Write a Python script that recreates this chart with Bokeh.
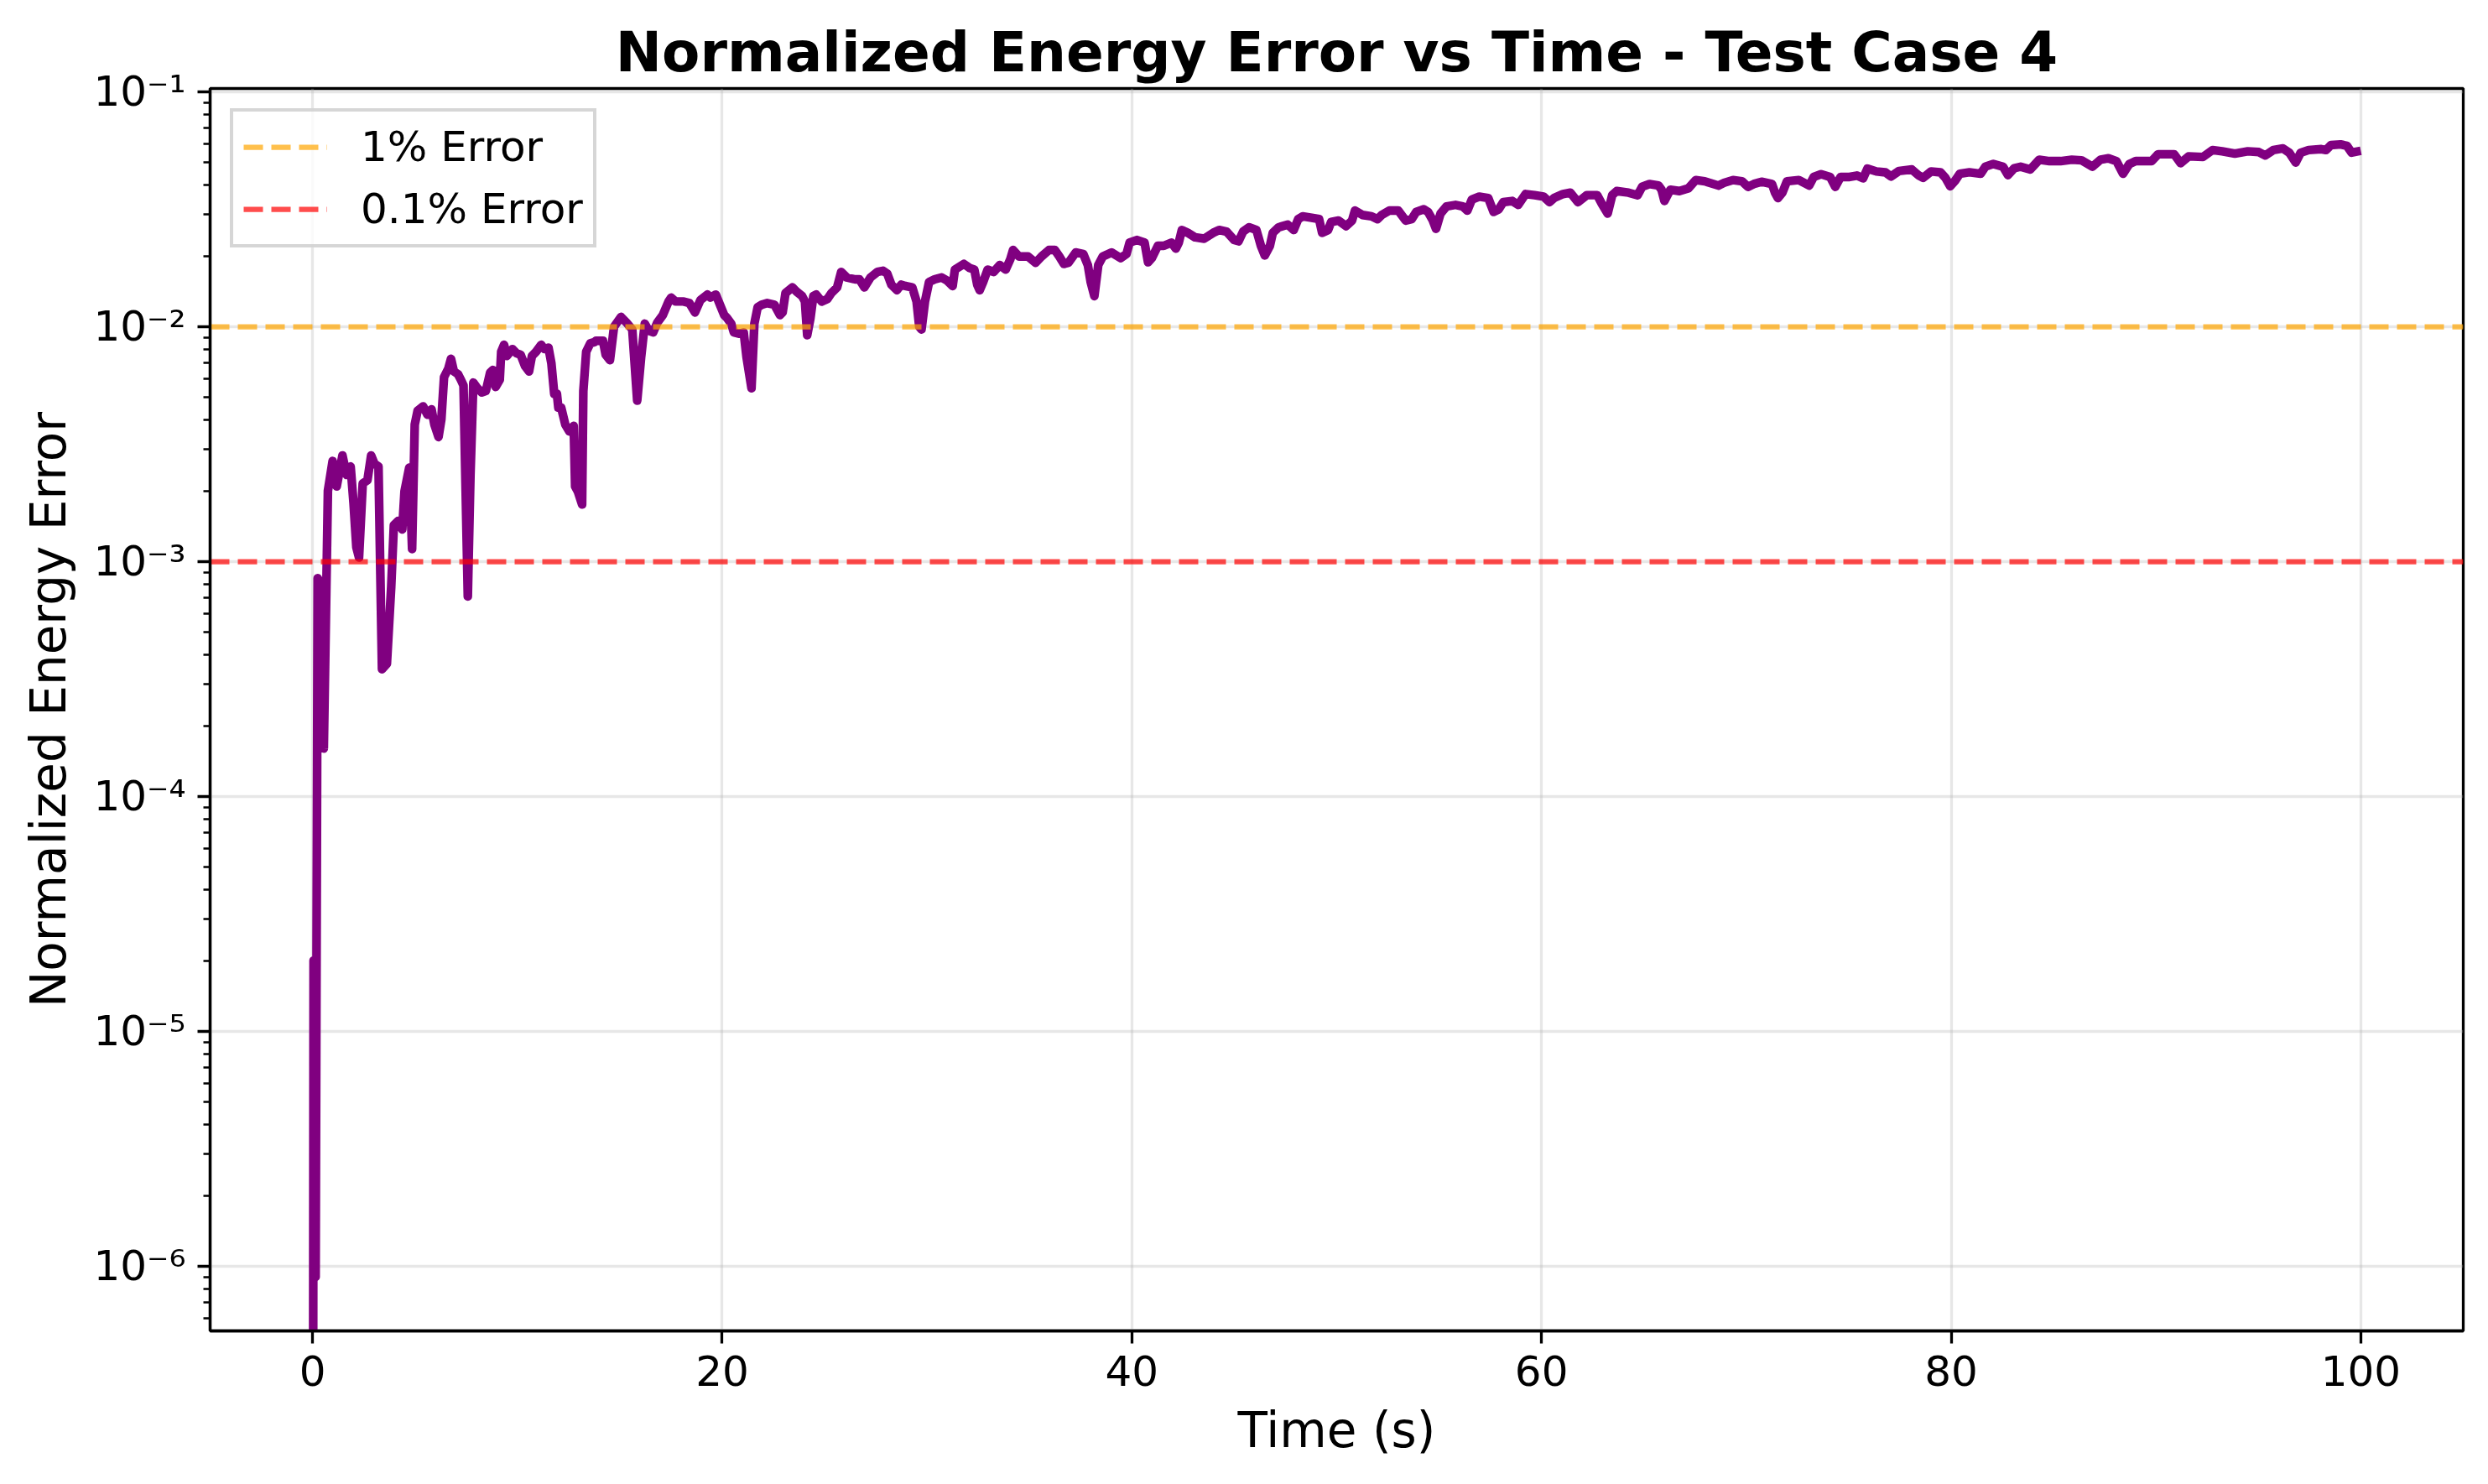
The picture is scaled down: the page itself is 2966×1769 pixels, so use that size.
from bokeh.plotting import figure
from bokeh.models import Range1d, FixedTicker, CustomJSTickFormatter, Legend, LegendItem
from bokeh.embed import file_html
from bokeh.resources import INLINE

TITLE = "Normalized Energy Error vs Time - Test Case 4"
X_LABEL = "Time (s)"
Y_LABEL = "Normalized Energy Error"

TIME = [
    0.00, 0.05, 0.15, 0.25, 0.40, 0.55, 0.75, 0.98, 1.18, 1.46, 1.66, 1.86, 2.00, 2.14, 2.27,
    2.45, 2.68, 2.86, 3.02, 3.22, 3.39, 3.63, 3.84, 3.97, 4.18, 4.38, 4.49, 4.72, 4.86, 4.99,
    5.13, 5.40, 5.61, 5.81, 5.95, 6.15, 6.29, 6.42, 6.63, 6.76, 6.90, 7.10, 7.24, 7.37, 7.58,
    7.71, 7.85, 8.05, 8.26, 8.46, 8.67, 8.80, 8.94, 9.14, 9.21, 9.35, 9.48, 9.76, 9.96, 10.16,
    10.37, 10.57, 10.71, 10.91, 11.16, 11.32, 11.52, 11.66, 11.80, 11.93, 12.00, 12.14, 12.34,
    12.54, 12.75, 12.82, 12.95, 13.16, 13.22, 13.36, 13.56, 13.77,
    13.84, 14.18, 14.31, 14.52, 14.72, 15.06, 15.33, 15.61, 15.85, 16.04, 16.22, 16.42, 16.63,
    16.83, 17.10, 17.38, 17.51, 17.72, 18.12, 18.40, 18.67, 18.94, 19.28, 19.42, 19.69, 19.89,
    20.10, 20.23, 20.44, 20.57, 20.85, 21.05, 21.19, 21.43, 21.57, 21.73, 21.93, 22.20, 22.55,
    22.82, 22.95, 23.09, 23.43, 23.63, 23.90, 24.04, 24.15, 24.31, 24.45, 24.59, 24.86, 25.13,
    25.33, 25.61, 25.81, 26.08, 26.49, 26.70, 26.94, 27.24, 27.58, 27.85, 28.06, 28.26, 28.53,
    28.74, 28.94, 29.28, 29.49, 29.62, 29.73, 29.90, 30.10, 30.37, 30.71, 30.98, 31.25, 31.36,
    31.80, 32.07,
    32.31, 32.45, 32.57, 32.74, 32.96, 33.25, 33.55, 33.84, 34.06, 34.20, 34.49, 34.93, 35.30,
    35.59, 35.95, 36.24, 36.46, 36.68, 36.90, 37.26, 37.63, 37.85, 37.99, 38.17, 38.36, 38.58,
    39.01, 39.45, 39.74, 39.89, 40.25, 40.62, 40.79, 40.98, 41.27, 41.56, 41.93, 42.15, 42.29,
    42.44, 42.73, 43.09, 43.53, 43.97, 44.26, 44.62, 44.99, 45.21, 45.43, 45.72, 46.08, 46.30,
    46.49, 46.74, 46.88, 47.17, 47.61, 47.90, 48.12, 48.34, 48.78, 49.14, 49.29, 49.58, 49.73,
    50.09, 50.46, 50.75, 50.89, 51.26, 51.70, 51.99, 52.20, 52.57, 53.01, 53.37, 53.66, 53.88,
    54.25, 54.46, 54.68,
    54.85, 55.07, 55.36, 55.80, 56.16, 56.38, 56.60, 56.96, 57.40, 57.66, 57.91, 58.13, 58.57,
    58.86, 59.22, 59.66, 60.10, 60.39, 60.61, 61.05, 61.41, 61.78, 62.21, 62.72, 62.94, 63.23,
    63.45, 63.67, 64.25, 64.69, 64.91, 65.27, 65.71, 65.86, 66.00, 66.29, 66.73, 67.17, 67.53,
    67.97, 68.63, 68.92, 69.35, 69.79, 70.08, 70.37, 70.74, 71.25, 71.40, 71.54, 71.76, 71.98,
    72.56, 73.07, 73.29, 73.65, 74.09, 74.34, 74.60, 75.04, 75.40, 75.70, 75.91, 76.35, 76.79,
    77.06, 77.45, 78.08, 78.39, 78.63, 79.02, 79.48, 79.72, 79.95, 80.19, 80.42, 80.89, 81.44,
    81.67, 82.06, 82.53, 82.77, 83.08, 83.39, 83.86, 84.30, 84.80, 85.34, 85.89, 86.36, 86.90,
    87.29, 87.68, 88.07, 88.39, 88.70, 89.01, 89.79, 90.10, 90.89, 91.20, 91.59, 92.29, 92.76,
    93.23, 93.85, 94.48, 95.02, 95.34, 95.73, 96.20, 96.51, 96.82, 97.06, 97.45, 98.07, 98.30,
    98.54, 99.01, 99.32, 99.55, 100.00,
]

ENERGY_ERROR = [
    1e-9, 2.0e-5, 9.0e-7, 8.5e-4, 8.0e-4, 1.6e-4, 2.0e-3, 2.68e-3, 2.09e-3, 2.83e-3, 2.34e-3,
    2.54e-3, 1.78e-3, 1.15e-3, 1.04e-3,
    2.15e-3, 2.22e-3, 2.83e-3, 2.61e-3, 2.54e-3, 3.48e-4, 3.67e-4, 7.8e-4, 1.43e-3, 1.49e-3,
    1.37e-3, 1.99e-3, 2.51e-3, 1.13e-3, 3.83e-3,
    4.39e-3, 4.58e-3, 4.22e-3, 4.45e-3, 3.83e-3, 3.39e-3, 4.04e-3, 6.10e-3, 6.63e-3, 7.30e-3,
    6.45e-3, 6.28e-3, 5.95e-3, 5.62e-3, 7.1e-4,
    2.34e-3, 5.78e-3, 5.47e-3, 5.25e-3, 5.32e-3, 6.37e-3, 6.54e-3, 5.54e-3, 5.94e-3, 7.82e-3,
    8.37e-3, 7.50e-3, 8.03e-3, 7.71e-3, 7.60e-3,
    6.81e-3, 6.45e-3, 7.50e-3, 7.82e-3, 8.37e-3, 8.03e-3, 8.14e-3, 6.99e-3, 5.18e-3, 5.18e-3,
    4.52e-3, 4.52e-3, 3.83e-3,
    3.58e-3, 3.78e-3, 2.09e-3, 1.99e-3, 1.75e-3, 5.32e-3, 7.82e-3, 8.49e-3, 8.60e-3,
    8.71e-3, 8.71e-3, 7.60e-3, 7.20e-3, 1.00e-2, 1.10e-2, 1.04e-2, 9.73e-3, 4.84e-3, 7.40e-3,
    1.03e-2, 9.60e-3, 9.46e-3,
    1.04e-2, 1.12e-2, 1.28e-2, 1.33e-2, 1.28e-2, 1.28e-2, 1.26e-2, 1.15e-2, 1.30e-2, 1.37e-2,
    1.33e-2, 1.37e-2, 1.24e-2,
    1.12e-2, 1.09e-2, 1.03e-2, 9.46e-3, 9.33e-3, 9.46e-3, 7.40e-3, 5.47e-3, 1.03e-2, 1.21e-2,
    1.24e-2, 1.26e-2, 1.24e-2,
    1.12e-2, 1.15e-2, 1.39e-2, 1.47e-2, 1.41e-2, 1.35e-2, 1.28e-2, 9.20e-3, 1.09e-2, 1.35e-2,
    1.37e-2, 1.28e-2, 1.31e-2,
    1.39e-2, 1.47e-2, 1.71e-2, 1.62e-2, 1.59e-2, 1.59e-2, 1.47e-2, 1.62e-2, 1.71e-2, 1.73e-2,
    1.68e-2, 1.51e-2, 1.43e-2,
    1.51e-2, 1.49e-2, 1.47e-2, 1.28e-2, 1.00e-2, 9.73e-3, 1.28e-2, 1.55e-2, 1.59e-2, 1.62e-2,
    1.57e-2, 1.49e-2, 1.75e-2,
    1.85e-2, 1.78e-2,
    1.75e-2, 1.51e-2, 1.43e-2, 1.55e-2, 1.75e-2, 1.71e-2, 1.83e-2, 1.75e-2, 1.93e-2, 2.12e-2,
    1.99e-2, 1.99e-2, 1.87e-2,
    1.99e-2, 2.12e-2, 2.12e-2, 1.99e-2, 1.85e-2, 1.87e-2, 2.07e-2, 2.04e-2, 1.83e-2, 1.55e-2,
    1.35e-2, 1.83e-2, 1.99e-2,
    2.07e-2, 1.96e-2, 2.04e-2, 2.28e-2, 2.34e-2, 2.28e-2, 1.88e-2, 1.96e-2, 2.21e-2, 2.21e-2,
    2.28e-2, 2.15e-2, 2.28e-2,
    2.58e-2, 2.51e-2, 2.40e-2, 2.37e-2, 2.51e-2, 2.58e-2, 2.54e-2, 2.34e-2, 2.31e-2, 2.54e-2,
    2.65e-2, 2.58e-2, 2.21e-2,
    2.01e-2, 2.21e-2, 2.51e-2, 2.65e-2, 2.72e-2, 2.58e-2, 2.87e-2, 2.95e-2, 2.91e-2, 2.87e-2,
    2.51e-2, 2.58e-2, 2.79e-2,
    2.83e-2, 2.68e-2, 2.83e-2, 3.12e-2, 2.99e-2, 2.95e-2, 2.87e-2, 2.99e-2, 3.12e-2, 3.12e-2,
    2.83e-2, 2.87e-2, 3.08e-2,
    3.16e-2, 3.08e-2, 2.85e-2,
    2.61e-2, 3.03e-2, 3.25e-2, 3.30e-2, 3.25e-2, 3.12e-2, 3.48e-2, 3.58e-2, 3.53e-2, 3.08e-2,
    3.16e-2, 3.39e-2, 3.43e-2,
    3.30e-2, 3.67e-2, 3.63e-2, 3.58e-2, 3.39e-2, 3.53e-2, 3.67e-2, 3.72e-2, 3.39e-2, 3.63e-2,
    3.63e-2, 3.34e-2, 3.03e-2,
    3.63e-2, 3.78e-2, 3.72e-2, 3.63e-2, 3.94e-2, 4.05e-2, 3.99e-2, 3.83e-2, 3.43e-2, 3.83e-2,
    3.78e-2, 3.88e-2, 4.21e-2,
    4.16e-2, 3.99e-2, 4.10e-2, 4.21e-2, 4.16e-2, 3.94e-2, 4.05e-2, 4.14e-2, 4.05e-2, 3.72e-2,
    3.53e-2, 3.72e-2, 4.16e-2,
    4.21e-2, 3.99e-2, 4.34e-2, 4.46e-2, 4.34e-2, 3.94e-2, 4.34e-2, 4.34e-2, 4.40e-2, 4.28e-2,
    4.71e-2, 4.58e-2, 4.54e-2,
    4.36e-2, 4.60e-2, 4.67e-2, 4.42e-2, 4.30e-2, 4.58e-2, 4.54e-2, 4.30e-2, 3.96e-2, 4.18e-2,
    4.48e-2, 4.54e-2, 4.48e-2,
    4.80e-2, 4.93e-2, 4.80e-2, 4.42e-2, 4.73e-2, 4.80e-2, 4.67e-2, 5.14e-2, 5.07e-2, 5.07e-2,
    5.14e-2, 5.11e-2, 4.80e-2,
    5.14e-2, 5.21e-2, 5.07e-2, 4.48e-2, 4.93e-2, 5.07e-2, 5.07e-2, 5.42e-2, 5.42e-2, 4.97e-2,
    5.31e-2, 5.28e-2, 5.65e-2,
    5.58e-2, 5.46e-2, 5.58e-2, 5.54e-2, 5.36e-2, 5.65e-2, 5.74e-2, 5.50e-2, 5.00e-2, 5.50e-2,
    5.65e-2, 5.70e-2, 5.65e-2,
    5.93e-2, 5.97e-2, 5.89e-2, 5.51e-2, 5.61e-2,
]

THRESHOLD_VALUES = [0.01, 0.001]
THRESHOLD_LABELS = ["1% Error", "0.1% Error"]
THRESHOLD_COLORS = ["orange", "red"]

X_TICKS = [0, 20, 40, 60, 80, 100]
Y_DECADES = [-6, -5, -4, -3, -2, -1]

FONT = "DejaVu Sans"

p = figure(
    width=2950, height=1753,
    y_axis_type="log",
    x_range=Range1d(-5, 105),
    y_range=Range1d(5.3e-7, 0.1033),
    output_backend="svg",
    toolbar_location=None,
    min_border_left=250, min_border_right=14,
    min_border_top=105, min_border_bottom=167,
    background_fill_color="white",
    border_fill_color="white",
)

p.title.text = TITLE
p.title.text_font = FONT
p.title.text_font_size = "66px"
p.title.text_font_style = "bold"
p.title.align = "center"
p.title.text_color = "black"

p.line(TIME, ENERGY_ERROR, line_color="purple", line_width=10.4, line_join="round")

renderers = []
for val, col in zip(THRESHOLD_VALUES, THRESHOLD_COLORS):
    r = p.hspan(y=[val], line_color=col, line_alpha=0.7, line_width=6.25, line_dash="23 10")
    renderers.append(r)

legend = Legend(
    items=[LegendItem(label=lab, renderers=[r]) for lab, r in zip(THRESHOLD_LABELS, renderers)],
    location="top_left",
)
legend.margin = 24
legend.padding = 12
legend.spacing = 14
legend.glyph_width = 100
legend.glyph_height = 60
legend.label_standoff = 40
legend.label_text_font = FONT
legend.label_text_font_size = "50px"
legend.label_text_color = "black"
legend.border_line_color = "#cccccc"
legend.border_line_alpha = 0.8
legend.border_line_width = 4
legend.background_fill_color = "white"
legend.background_fill_alpha = 0.8
p.add_layout(legend)

# axes
p.xaxis.ticker = FixedTicker(ticks=X_TICKS)
p.yaxis.ticker = FixedTicker(
    ticks=[10.0 ** d for d in Y_DECADES],
    minor_ticks=[m * 10.0 ** d for d in range(-7, 0) for m in range(2, 10)],
)
p.yaxis.formatter = CustomJSTickFormatter(code="""
const e = Math.round(Math.log10(tick));
const s = {'-':'\u207b','0':'\u2070','1':'\u00b9','2':'\u00b2','3':'\u00b3','4':'\u2074','5':'\u2075','6':'\u2076','7':'\u2077','8':'\u2078','9':'\u2079'};
return '10' + String(e).split('').map(c => s[c]).join('');
""")

for ax in (p.xaxis, p.yaxis):
    ax.axis_line_color = "black"
    ax.axis_line_width = 3.3
    ax.major_tick_line_color = "black"
    ax.major_tick_line_width = 3.3
    ax.major_tick_out = 15
    ax.major_tick_in = 0
    ax.minor_tick_line_color = "black"
    ax.minor_tick_line_width = 2.5
    ax.minor_tick_out = 8
    ax.minor_tick_in = 0
    ax.major_label_text_font = FONT
    ax.major_label_text_font_size = "50px"
    ax.major_label_text_color = "black"
    ax.major_label_standoff = 14
    ax.axis_label_text_font = FONT
    ax.axis_label_text_font_size = "58px"
    ax.axis_label_text_font_style = "normal"
    ax.axis_label_text_color = "black"
    ax.axis_label_standoff = 16

p.xaxis.minor_tick_line_color = None
p.xaxis.axis_label = X_LABEL
p.yaxis.axis_label = Y_LABEL

p.xgrid.grid_line_color = "#b0b0b0"
p.xgrid.grid_line_alpha = 0.3
p.xgrid.grid_line_width = 3.3
p.ygrid.grid_line_color = "#b0b0b0"
p.ygrid.grid_line_alpha = 0.3
p.ygrid.grid_line_width = 3.3

p.outline_line_color = "black"
p.outline_line_width = 3.3
p.outline_line_alpha = 1.0

open("out.html", "w").write(file_html(p, INLINE))
